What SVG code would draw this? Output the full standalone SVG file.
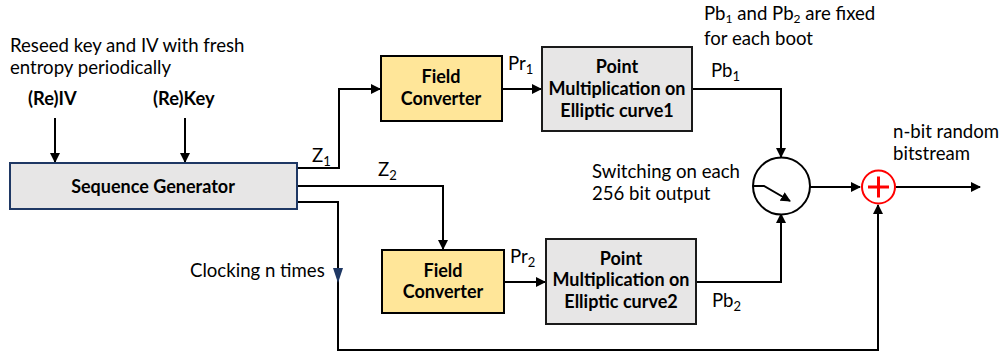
<svg xmlns="http://www.w3.org/2000/svg" width="1006" height="354" viewBox="0 0 1006 354">
<style>
text{font-family:Lato,"Open Sans",sans-serif;fill:#000}
.t{font-size:18.6px}
.b{font-size:18px;font-weight:bold;text-anchor:middle}
.bl{font-size:18.3px;font-weight:bold}
.s{font-size:13px;baseline-shift:-4px}
.s3{font-size:12px;baseline-shift:-3px}
.w{stroke:#000;stroke-width:2;fill:none}
.fc{fill:#ffe699;stroke:#000;stroke-width:2}
.pm{fill:#e7e6e6;stroke:#1a1a1a;stroke-width:2}
</style>
<defs>
<marker id="ah" markerWidth="10" markerHeight="10" refX="9" refY="5" orient="auto" markerUnits="userSpaceOnUse">
<path d="M0,0 L10,5 L0,10 Z" fill="#000"/>
</marker>
</defs>
<rect width="1006" height="354" fill="#fff"/>
<g id="labels">
<text class="t" x="10" y="52">Reseed key and IV with fresh</text>
<text class="t" x="10" y="74">entropy periodically</text>
<text class="bl" x="28" y="105">(Re)IV</text>
<text class="bl" x="153" y="105">(Re)Key</text>
<text class="t" x="312" y="162">Z<tspan class="s">1</tspan></text>
<text class="t" x="378" y="176">Z<tspan class="s">2</tspan></text>
<text class="t" x="508" y="70">Pr<tspan class="s">1</tspan></text>
<text class="t" x="510" y="263">Pr<tspan class="s">2</tspan></text>
<text class="t" x="711" y="77">Pb<tspan class="s">1</tspan></text>
<text class="t" x="712" y="307">Pb<tspan class="s">2</tspan></text>
<text class="t" x="704" y="20">Pb<tspan class="s3">1</tspan> and Pb<tspan class="s3">2</tspan> are fixed</text>
<text class="t" x="704" y="45">for each boot</text>
<text class="t" x="893" y="138">n-bit random</text>
<text class="t" x="893" y="160">bitstream</text>
<text class="t" x="592" y="178">Switching on each</text>
<text class="t" x="592" y="200">256 bit output</text>
<text class="t" x="190" y="277">Clocking n times</text>
</g>
<g id="connectors">
<line class="w" x1="55" y1="118" x2="55" y2="162" marker-end="url(#ah)"/>
<line class="w" x1="185" y1="118" x2="185" y2="162" marker-end="url(#ah)"/>
<polyline class="w" points="297,168 339,168 339,89 380,89" marker-end="url(#ah)"/>
<polyline class="w" points="297,186 443,186 443,249" marker-end="url(#ah)"/>
<polyline class="w" points="297,202 338,202 338,350 878,350 878,205" marker-end="url(#ah)"/>
<path d="M333,268 L343,268 L338,283 Z" fill="#1f3864"/>
<line class="w" x1="502" y1="89" x2="541" y2="89" marker-end="url(#ah)"/>
<line class="w" x1="504" y1="282" x2="545" y2="282" marker-end="url(#ah)"/>
<polyline class="w" points="692,89 781,89 781,157" marker-end="url(#ah)"/>
<polyline class="w" points="696,282 781,282 781,214" marker-end="url(#ah)"/>
<line class="w" x1="810" y1="187" x2="860" y2="187" marker-end="url(#ah)"/>
<line class="w" x1="896" y1="187" x2="980" y2="187" marker-end="url(#ah)"/>
</g>
<g id="seqgen">
<rect x="10" y="163" width="287" height="46" fill="#e7e6e6" stroke="#1f3864" stroke-width="2"/>
<text class="b" x="153" y="193">Sequence Generator</text>
</g>
<g id="fc1">
<rect class="fc" x="381" y="56" width="121" height="65"/>
<text class="b" x="441" y="83">Field</text>
<text class="b" x="441" y="105">Converter</text>
</g>
<g id="fc2">
<rect class="fc" x="382" y="250" width="122" height="63"/>
<text class="b" x="443" y="277">Field</text>
<text class="b" x="443" y="298">Converter</text>
</g>
<g id="pm1">
<rect class="pm" x="542" y="47" width="150" height="84"/>
<text class="b" x="617" y="73">Point</text>
<text class="b" x="617" y="95">Multiplication on</text>
<text class="b" x="617" y="117">Elliptic curve1</text>
</g>
<g id="pm2">
<rect class="pm" x="546" y="239" width="150" height="85"/>
<text class="b" x="621" y="265">Point</text>
<text class="b" x="621" y="286">Multiplication on</text>
<text class="b" x="621" y="308">Elliptic curve2</text>
</g>
<g id="switch">
<circle cx="781.5" cy="186" r="28.5" fill="#fff" stroke="#000" stroke-width="2"/>
<polyline class="w" points="753,186 764,186 790,201" marker-end="url(#ah)"/>
</g>
<g id="xor">
<circle cx="878.5" cy="187" r="16.5" fill="#fff" stroke="#f00" stroke-width="2"/>
<line x1="868" y1="187" x2="889" y2="187" stroke="#f00" stroke-width="3"/>
<line x1="878.5" y1="176.5" x2="878.5" y2="197.5" stroke="#f00" stroke-width="3"/>
</g>
</svg>
